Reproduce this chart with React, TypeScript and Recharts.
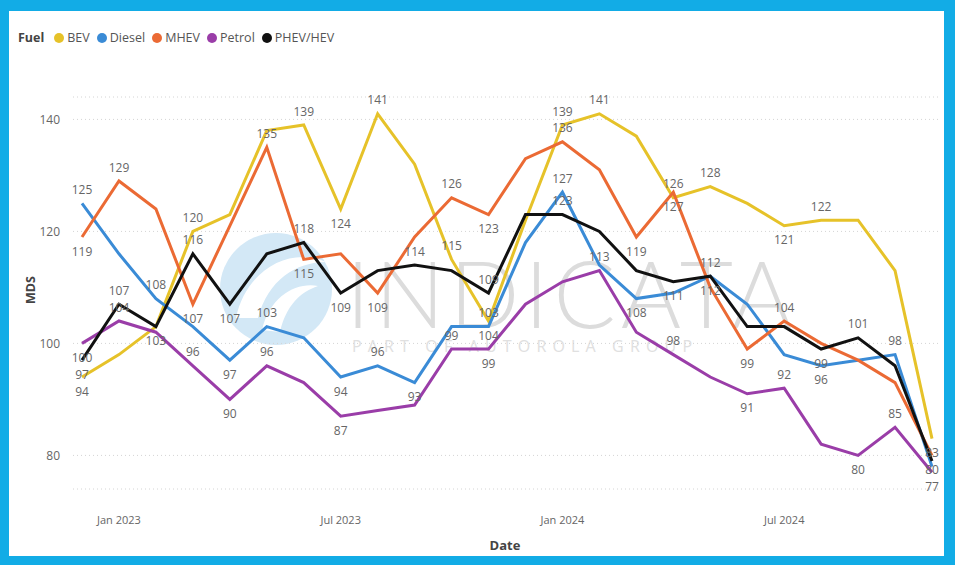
import { LineChart, Line, XAxis, YAxis, CartesianGrid, LabelList } from "recharts";

const months = [
  "Dec 2022", "Jan 2023", "Feb 2023", "Mar 2023", "Apr 2023", "May 2023",
  "Jun 2023", "Jul 2023", "Aug 2023", "Sep 2023", "Oct 2023", "Nov 2023",
  "Dec 2023", "Jan 2024", "Feb 2024", "Mar 2024", "Apr 2024", "May 2024",
  "Jun 2024", "Jul 2024", "Aug 2024", "Sep 2024", "Oct 2024", "Nov 2024",
];
const tickMonths = ["Jan 2023", "Jul 2023", "Jan 2024", "Jul 2024"];
const yTicks = [80, 100, 120, 140];

const bev = [94, 98, 103, 120, 123, 138, 139, 124, 141, 132, 115, 104, 122, 139, 141, 137, 126, 128, 125, 121, 122, 122, 113, 83];
const diesel = [125, 116, 108, 103, 97, 103, 101, 94, 96, 93, 103, 103, 118, 127, 114, 108, 109, 112, 107, 98, 96, 97, 98, 78];
const mhev = [119, 129, 124, 107, 121, 135, 115, 116, 109, 119, 126, 123, 133, 136, 131, 119, 127, 110, 99, 104, 100, 97, 93, 80];
const petrol = [100, 104, 102, 96, 90, 96, 93, 87, 88, 89, 99, 99, 107, 111, 113, 102, 98, 94, 91, 92, 82, 80, 85, 77];
const phev = [97, 107, 103, 116, 107, 116, 118, 109, 113, 114, 113, 109, 123, 123, 120, 113, 111, 112, 103, 103, 99, 101, 96, 79];

// which points carry a data label, and whether it sits above (a) or below (b)
const bevLabels: Record<number, string> = { 0: "b", 3: "a", 6: "a", 7: "b", 8: "a", 10: "a", 11: "b", 13: "a", 14: "a", 16: "a", 17: "a", 19: "b", 20: "a", 23: "b" };
const dieselLabels: Record<number, string> = { 0: "a", 2: "a", 4: "b", 5: "a", 7: "b", 8: "a", 9: "b", 11: "a", 13: "a", 15: "b", 17: "b", 20: "b", 22: "a" };
const mhevLabels: Record<number, string> = { 0: "b", 1: "a", 3: "b", 5: "a", 6: "b", 8: "b", 10: "a", 11: "b", 13: "a", 15: "b", 16: "b", 18: "b", 19: "a", 23: "b" };
const petrolLabels: Record<number, string> = { 0: "b", 1: "a", 3: "a", 4: "b", 5: "a", 7: "b", 10: "a", 11: "b", 14: "a", 16: "a", 18: "b", 19: "a", 21: "b", 22: "a", 23: "b" };
const phevLabels: Record<number, string> = { 0: "b", 1: "a", 2: "b", 3: "a", 4: "b", 6: "a", 7: "b", 9: "a", 11: "a", 13: "a", 16: "b", 17: "a", 20: "b", 21: "a" };

const series = [
  { key: "BEV", values: bev, color: "#E6C229", labels: bevLabels },
  { key: "Diesel", values: diesel, color: "#3A8BD6", labels: dieselLabels },
  { key: "MHEV", values: mhev, color: "#EB6A34", labels: mhevLabels },
  { key: "Petrol", values: petrol, color: "#9A3DA8", labels: petrolLabels },
  { key: "PHEV/HEV", values: phev, color: "#111111", labels: phevLabels },
];

const FONT = "'Open Sans', 'Noto Sans', sans-serif";
const CYAN = "#12ACE6";

function labelRenderer(placement: Record<number, string>) {
  return (props: any) => {
    const { x, y, value, index } = props;
    const pos = placement[index];
    if (!pos) return null;
    return (
      <text
        x={x}
        y={pos === "a" ? y - 14 : y + 14}
        textAnchor="middle"
        dominantBaseline="central"
        fill="#666"
        fontSize={12}
        fontFamily={FONT}
      >
        {value}
      </text>
    );
  };
}

function Watermark() {
  return (
    <svg width={955} height={565} style={{ position: "absolute", left: 0, top: 0 }}>
      <circle cx={276} cy={289} r={56} fill="#D3E8F6" />
      <path d="M236 318 C246 270 290 246 326 262 C296 262 268 280 258 318 Z" fill="#fff" />
      <path d="M262 330 C270 296 296 282 318 286 C300 292 286 306 280 332 Z" fill="#fff" />
      <text
        x={346}
        y={328}
        fontSize={92}
        fontFamily="Lato, 'Open Sans', sans-serif"
        fontWeight={300}
        fill="#DCDCDC"
        textLength={446}
        lengthAdjust="spacing"
      >
        INDICATA
      </text>
      <text
        x={352}
        y={352}
        fontSize={16}
        fontFamily={FONT}
        fill="#E0E0E0"
        textLength={340}
        lengthAdjust="spacing"
      >
        PART OF AUTOROLA GROUP
      </text>
    </svg>
  );
}

function Legend() {
  return (
    <div
      style={{
        position: "absolute",
        left: 18,
        top: 29,
        display: "flex",
        alignItems: "center",
        fontFamily: FONT,
        fontSize: 12.5,
        color: "#555",
        whiteSpace: "nowrap",
      }}
    >
      <span style={{ fontWeight: 700, color: "#444", marginRight: 10 }}>Fuel</span>
      {series.map((s) => (
        <span key={s.key} style={{ display: "flex", alignItems: "center", marginRight: 7 }}>
          <span
            style={{
              width: 10,
              height: 10,
              borderRadius: 5,
              background: s.color,
              marginRight: 3,
              display: "inline-block",
            }}
          />
          {s.key}
        </span>
      ))}
    </div>
  );
}

export default function App() {
  const data = months.map((m, i) => {
    const row: Record<string, string | number> = { month: m };
    series.forEach((s) => {
      row[s.key] = s.values[i];
    });
    return row;
  });

  return (
    <div style={{ position: "absolute", left: 0, top: 0, width: 955, height: 565, background: CYAN }}>
      <div style={{ position: "absolute", left: 9, top: 11, width: 935, height: 545, background: "#fff" }} />
      <Watermark />
      <Legend />
      <div style={{ position: "absolute", left: 0, top: 0, width: 955, height: 565 }}>
        <LineChart
          width={955}
          height={565}
          data={data}
          margin={{ top: 97, right: 15, bottom: 46, left: 20 }}
        >
          <CartesianGrid vertical={false} stroke="#d4d4d4" strokeDasharray="1 3" />
          <XAxis
            dataKey="month"
            ticks={tickMonths}
            padding={{ left: 9, right: 8 }}
            tickLine={false}
            axisLine={false}
            height={30}
            tickMargin={21}
            tick={{ fill: "#666", fontSize: 11, fontFamily: FONT }}
          />
          <YAxis
            domain={[74, 144]}
            ticks={yTicks}
            width={53}
            tickLine={false}
            axisLine={false}
            tickMargin={7}
            tick={{ fill: "#666", fontSize: 12, fontFamily: FONT }}
          />
          {series.map((s) => (
            <Line
              key={s.key}
              dataKey={s.key}
              stroke={s.color}
              strokeWidth={3}
              dot={false}
              activeDot={false}
              isAnimationActive={false}
            >
              <LabelList dataKey={s.key} content={labelRenderer(s.labels)} />
            </Line>
          ))}
        </LineChart>
      </div>
      <svg width={955} height={565} style={{ position: "absolute", left: 0, top: 0, pointerEvents: "none" }}>
        <text
          x={30}
          y={290}
          transform="rotate(-90 30 290)"
          textAnchor="middle"
          dominantBaseline="central"
          fontSize={12.5}
          fontWeight={700}
          fontFamily={FONT}
          fill="#444"
        >
          MDS
        </text>
        <text
          x={505}
          y={545}
          textAnchor="middle"
          dominantBaseline="central"
          fontSize={13}
          fontWeight={700}
          fontFamily={FONT}
          fill="#444"
        >
          Date
        </text>
      </svg>
    </div>
  );
}
